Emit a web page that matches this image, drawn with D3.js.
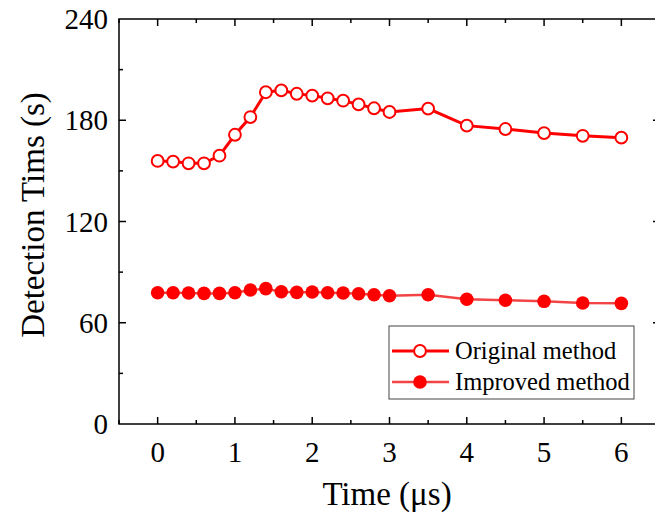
<!DOCTYPE html>
<html>
<head>
<meta charset="utf-8">
<script src="https://cdn.jsdelivr.net/npm/d3@7"></script>
<style>
body { margin: 0; background: #fff; }
text { font-family: "Liberation Serif", "Times New Roman", serif; fill: #000; }
</style>
</head>
<body>
<svg id="chart" width="655" height="518"></svg>
<script>
var timeX = [0, 0.2, 0.4, 0.6, 0.8, 1.0, 1.2, 1.4, 1.6, 1.8, 2.0, 2.2, 2.4, 2.6, 2.8, 3.0, 3.5, 4.0, 4.5, 5.0, 5.5, 6.0];
var originalY = [155.9, 155.5, 154.5, 154.5, 159.0, 171.4, 181.9, 196.6, 197.7, 195.7, 194.6, 193.0, 191.6, 189.4, 187.1, 184.9, 186.9, 176.8, 174.8, 172.4, 170.8, 169.7];
var improvedY = [77.8, 77.8, 77.6, 77.4, 77.4, 77.8, 79.4, 80.2, 78.4, 78.0, 78.2, 77.8, 77.6, 77.2, 76.6, 76.0, 76.6, 73.9, 73.3, 72.7, 71.7, 71.5];
var xTicks = [0, 1, 2, 3, 4, 5, 6];
var yTicks = [0, 60, 120, 180, 240];
var seriesNames = ['Original method', 'Improved method'];

var svg = d3.select('#chart');
var plotLeft = 119, plotRight = 660, plotTop = 19, plotBottom = 424;

var x = d3.scaleLinear().domain([-0.5, 6.5]).range([plotLeft, plotRight]);
var y = d3.scaleLinear().domain([0, 240]).range([plotBottom, plotTop]);

// frame
svg.append('rect')
    .attr('x', plotLeft).attr('y', plotTop)
    .attr('width', plotRight - plotLeft).attr('height', plotBottom - plotTop)
    .attr('fill', 'none').attr('stroke', '#000').attr('stroke-width', 1.5);

var xMinor = d3.range(-0.5, 6.51, 0.5).filter(d => d % 1 != 0);
var yMinor = d3.range(30, 240, 60);

function xTickMarks(vals, len) {
    vals.forEach(v => {
        svg.append('line').attr('x1', x(v)).attr('x2', x(v)).attr('y1', plotBottom).attr('y2', plotBottom - len).attr('stroke', '#000').attr('stroke-width', 1.5);
        svg.append('line').attr('x1', x(v)).attr('x2', x(v)).attr('y1', plotTop).attr('y2', plotTop + len).attr('stroke', '#000').attr('stroke-width', 1.5);
    });
}
function yTickMarks(vals, len) {
    vals.forEach(v => {
        svg.append('line').attr('x1', plotLeft).attr('x2', plotLeft + len).attr('y1', y(v)).attr('y2', y(v)).attr('stroke', '#000').attr('stroke-width', 1.5);
        svg.append('line').attr('x1', plotRight).attr('x2', plotRight - len).attr('y1', y(v)).attr('y2', y(v)).attr('stroke', '#000').attr('stroke-width', 1.5);
    });
}
xTickMarks(xTicks, 7);
xTickMarks(xMinor, 4);
yTickMarks(yTicks.filter(d => d > 0 && d < 240), 7);
yTickMarks(yMinor, 4);

// tick labels
svg.selectAll('.xl').data(xTicks).enter().append('text')
    .attr('x', d => x(d)).attr('y', 462)
    .attr('text-anchor', 'middle').attr('font-size', 29)
    .text(d => d);
svg.selectAll('.yl').data(yTicks).enter().append('text')
    .attr('x', 108).attr('y', d => y(d) + 10)
    .attr('text-anchor', 'end').attr('font-size', 29)
    .text(d => d);

// axis titles
svg.append('text').attr('x', 387).attr('y', 505)
    .attr('text-anchor', 'middle').attr('font-size', 33)
    .text('Time (μs)');
svg.append('text')
    .attr('transform', 'translate(44,' + 215 + ') rotate(-90)')
    .attr('text-anchor', 'middle').attr('font-size', 33)
    .text('Detection Tims (s)');

var line = d3.line().x(d => x(d[0])).y(d => y(d[1]));
var origData = timeX.map((t, i) => [t, originalY[i]]);
var impData = timeX.map((t, i) => [t, improvedY[i]]);

svg.append('path').datum(impData).attr('d', line)
    .attr('fill', 'none').attr('stroke', '#f24444').attr('stroke-width', 2.5);
svg.selectAll('.imp').data(impData).enter().append('circle')
    .attr('cx', d => x(d[0])).attr('cy', d => y(d[1])).attr('r', 6.8)
    .attr('fill', '#ff0000');

svg.append('path').datum(origData).attr('d', line)
    .attr('fill', 'none').attr('stroke', '#ff0000').attr('stroke-width', 3);
svg.selectAll('.orig').data(origData).enter().append('circle')
    .attr('cx', d => x(d[0])).attr('cy', d => y(d[1])).attr('r', 5.9)
    .attr('fill', '#fff').attr('stroke', '#ff0000').attr('stroke-width', 2);

// legend
var lg = svg.append('g');
lg.append('rect').attr('x', 389).attr('y', 326).attr('width', 245).attr('height', 73)
    .attr('fill', '#fff').attr('stroke', '#444').attr('stroke-width', 1);
var rows = [351, 382];
seriesNames.forEach((name, i) => {
    var ry = rows[i];
    lg.append('line').attr('x1', 392).attr('x2', 449).attr('y1', ry).attr('y2', ry)
        .attr('stroke', i == 0 ? '#ff0000' : '#f24444').attr('stroke-width', i == 0 ? 3 : 2.5);
    if (i == 0) {
        lg.append('circle').attr('cx', 420).attr('cy', ry).attr('r', 5.9)
            .attr('fill', '#fff').attr('stroke', '#ff0000').attr('stroke-width', 2);
    } else {
        lg.append('circle').attr('cx', 420).attr('cy', ry).attr('r', 6.8).attr('fill', '#ff0000');
    }
    lg.append('text').attr('x', 455).attr('y', ry + 8).attr('font-size', 24.5).text(name);
});
</script>
</body>
</html>
